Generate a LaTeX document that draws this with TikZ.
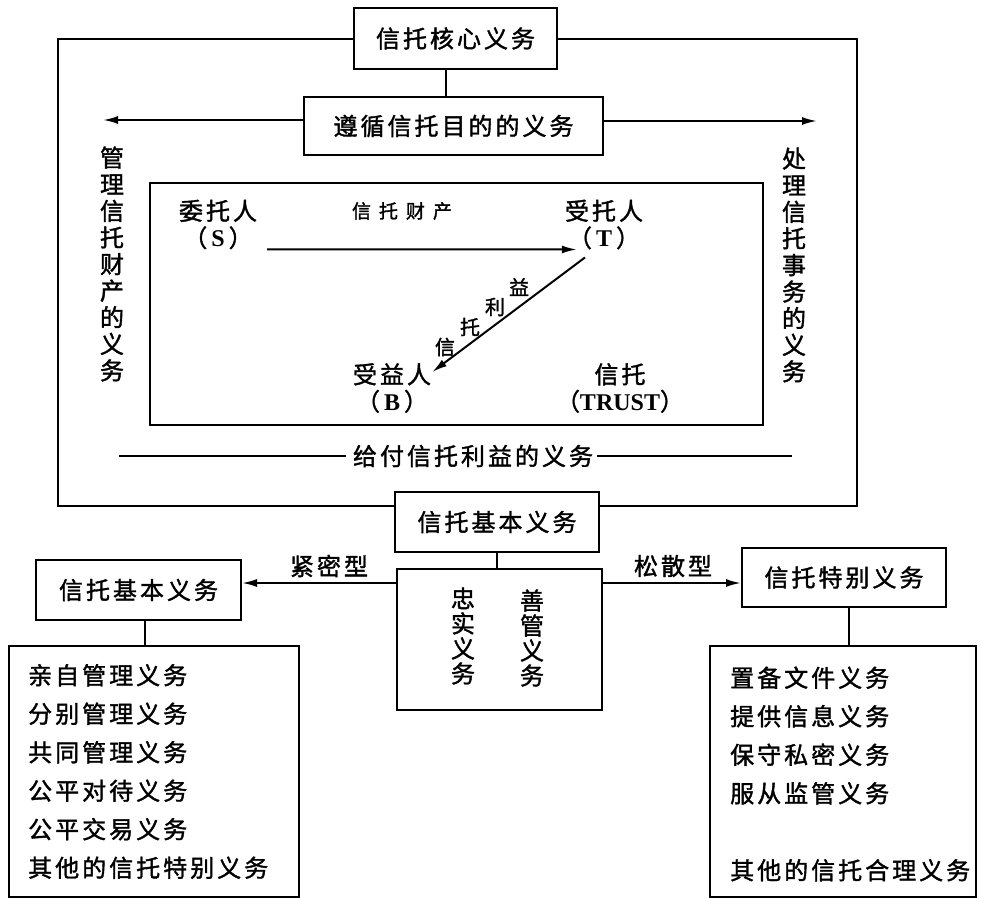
\documentclass[tikz,border=0pt]{standalone}
\usepackage{fontspec}
\setmainfont{Noto Sans CJK SC}[LetterSpace=12.5,FakeBold=1.5]
\newfontfamily\lat{Liberation Serif}
\usetikzlibrary{arrows.meta,calc}
\newcommand{\La}[1]{{\lat\bfseries #1}}
\begin{document}
\begin{tikzpicture}[x=1pt,y=-1pt,
  every node/.style={inner sep=0pt, font=\fontsize{24}{27}\selectfont},
  box/.style={draw, line width=2pt},
  ln/.style={line width=2pt},
  thinln/.style={line width=1.5pt},
  arr/.style={line width=2pt, -{Latex[length=15pt,width=8pt]}},
  vt/.style={align=center, font=\fontsize{24}{26.6}\selectfont},
  vtb/.style={align=center, font=\fontsize{24}{25}\selectfont},
  small/.style={font=\fontsize{20}{22}\selectfont},
  list/.style={align=left, anchor=west, font=\fontsize{24}{38.5}\selectfont},
]
\fill[white] (0,0) rectangle (982,897);
\useasboundingbox (0,0) rectangle (982,897);

% top boxes
\node[box, minimum width=203pt, minimum height=61pt] (core) at (455.5,38.5) {信托核心义务};
\node[box, minimum width=299pt, minimum height=58pt] (purpose) at (453.5,126) {遵循信托目的的义务};
\draw[ln] ($(core.south)+(-10,0)$) coordinate (c0) -- (c0 |- purpose.north);
\coordinate (tl) at (103,120);
\coordinate (tr) at (817,121);
\draw[arr] (tl -| purpose.west) -- (tl);
\draw[arr] (tr -| purpose.east) -- (tr);

% side texts
\node[vt] (manage) at (112,264) {管\\理\\信\\托\\财\\产\\的\\义\\务};
\node[vt] (handle) at (794,265) {处\\理\\信\\托\\事\\务\\的\\义\\务};

% inner trust box
\node[box, minimum width=613pt, minimum height=242pt] (inner) at (456.5,304) {};
\node[align=center] (S) at (218,224.5) {委托人\\（\,\La{S}\,）};
\node[align=center] (T) at (604,224.5) {受托人\\（\,\La{T}\,）};
\node[align=center] (B) at (392,388) {受益人\\（\,\La{B}\,）};
\node[align=center] (trust) at (620,388) {信托\\（\La{TRUST}）};
\node[font=\fontsize{19}{21}\selectfont\addfontfeature{LetterSpace=42}] (prop) at (402,211) {信托财产};
\draw[arr] ($(S.south east)+(10,0)$) -- ($(T.south west)+(12,0)$);
\draw[arr] ($(T.south)+(-19,8)$) -- ($(B.north east)+(1,9)$);
\node[small] (l1) at (445,347) {信};
\node[small] (l2) at (470,327) {托};
\node[small] (l3) at (495,307) {利};
\node[small] (l4) at (519,287) {益};

% give line
\node (give) at (473,456) {给付信托利益的义务};
\coordinate (gl) at (119,456);
\coordinate (gr) at (792,456);
\draw[thinln] (gl) -- ($(give.west)+(-7,0)$);
\draw[thinln] ($(give.east)+(4,0)$) -- (gr);

% outer frame
\node[box, minimum width=204pt, minimum height=60pt] (basic) at (497,522) {信托基本义务};
\coordinate (fl) at (58,506);
\coordinate (fr) at (857,506);
\draw[ln] (core.west) -| (fl) -- (fl -| basic.west);
\draw[ln] (core.east) -| (fr) -- (fr -| basic.east);

% lower part
\node[box, minimum width=205pt, minimum height=141pt] (duty) at (499.5,639.5) {};
\draw[ln] (basic.south) -- (basic.south |- duty.north);
\node[vtb] (loyal) at (463,636) {忠\\实\\义\\务};
\node[vtb] (care) at (532,638) {善\\管\\义\\务};

\node[box, minimum width=205pt, minimum height=60pt] (basicL) at (138.5,590) {信托基本义务};
\node[box, minimum width=204pt, minimum height=59pt] (special) at (844,577.5) {信托特别义务};
\coordinate (ay) at (0,583);
\draw[arr] (ay -| duty.west) -- (ay -| basicL.east);
\draw[arr] (ay -| duty.east) -- (ay -| special.west);
\node (tight) at (329,566) {紧密型};
\node (loose) at (673,566) {松散型};

\node[box, minimum width=290pt, minimum height=251pt, anchor=north west] (listL) at (8,645) {};
\node[list] (itemsL) at (28,771.5) {亲自管理义务\\分别管理义务\\共同管理义务\\公平对待义务\\公平交易义务\\其他的信托特别义务};
\node[box, minimum width=266pt, minimum height=251pt, anchor=north west] (listR) at (709,645) {};
\node[list] (itemsR) at (730,774) {置备文件义务\\提供信息义务\\保守私密义务\\服从监管义务\\[38.5pt]其他的信托合理义务};
\draw[ln] ($(basicL.south)+(6,0)$) coordinate (c1) -- (c1 |- listL.north);
\draw[ln] ($(special.south)+(5,0)$) coordinate (c2) -- (c2 |- listR.north);
\end{tikzpicture}
\end{document}
